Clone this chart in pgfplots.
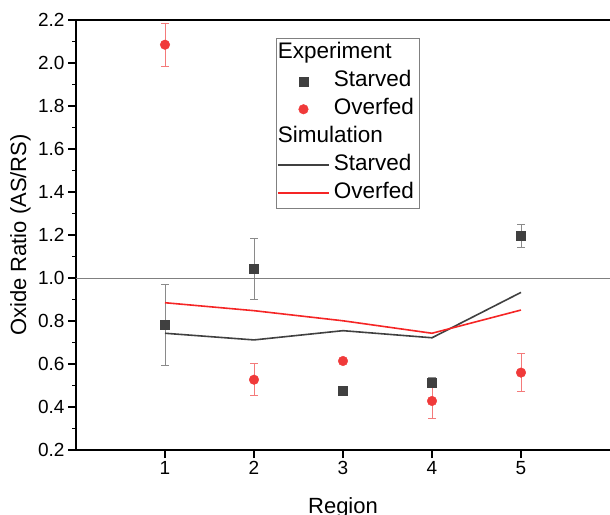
\documentclass[border=0pt]{standalone}
\usepackage{pgfplots}
\pgfplotsset{compat=1.18}
\usepackage{fontspec}
\setmainfont{Liberation Sans}
\definecolor{sgray}{HTML}{404040}
\definecolor{errgray}{HTML}{8A8A8A}
\definecolor{sred}{HTML}{F03A3A}
\definecolor{errred}{HTML}{F47A7A}
\definecolor{lred}{HTML}{F52525}
\begin{document}
\begin{tikzpicture}
\begin{axis}[
  scale only axis, width=534pt, height=430pt,
  xmin=0, xmax=6, ymin=0.2, ymax=2.2,
  axis x line=box, axis y line=left,
  axis line style={-, black, line width=1.3pt},
  xtick={1,2,3,4,5}, xtick pos=bottom,
  ytick={0.2,0.4,0.6,0.8,1.0,1.2,1.4,1.6,1.8,2.0,2.2},
  minor y tick num=1,
  tick align=outside,
  major tick length=8pt, minor tick length=4pt,
  tick style={black, line width=1.1pt},
  /pgf/number format/assume math mode=true,
  yticklabel style={/pgf/number format/.cd, fixed, fixed zerofill, precision=1},
  ticklabel style={font=\fontsize{19}{22}\selectfont},
  label style={font=\fontsize{22}{26}\selectfont},
  xlabel={Region},
  xlabel style={at={(axis description cs:0.5,0)}, anchor=north, inner sep=0pt, yshift=-47pt},
  ylabel={Oxide Ratio (AS/RS)},
  ylabel style={at={(axis description cs:-0.1236,0.5)}, anchor=north, inner sep=0pt},
  legend image code/.code={\draw[mark repeat=2,mark phase=2,#1] plot coordinates {(0pt,0pt)(25.5pt,0pt)(51pt,0pt)};},
  legend cell align=left,
  legend style={at={(axis description cs:0.3745,0.958)}, anchor=north west,
    draw=gray, fill=white,
    font=\fontsize{22.5}{26}\selectfont,
    nodes={inner ysep=1.5pt, inner xsep=4pt, text height=16pt, text depth=5pt},
    row sep=4pt, inner xsep=1pt, inner ysep=3pt},
]
\addlegendimage{empty legend}
\addlegendentry{\hspace*{-56pt}Experiment}
\addplot[only marks, mark=square*, mark size=4.5pt, color=sgray, draw=sgray,
  error bars/.cd, y dir=both, y explicit,
  error bar style={color=errgray, line width=0.8pt},
  error mark options={rotate=90, mark size=4pt, color=errgray, line width=0.8pt}]
  table[x=x, y=y, y error=e] {
x y e
1 0.781 0.188
2 1.042 0.140
3 0.476 0.020
4 0.515 0.025
5 1.197 0.054
};
\addlegendentry{Starved}
\addplot[only marks, mark=*, mark size=4.8pt, color=sred, draw=sred,
  error bars/.cd, y dir=both, y explicit,
  error bar style={color=errred, line width=0.8pt},
  error mark options={rotate=90, mark size=4pt, color=errred, line width=0.8pt}]
  table[x=x, y=y, y error=e] {
x y e
1 2.085 0.100
2 0.527 0.075
3 0.614 0.000
4 0.428 0.080
5 0.560 0.087
};
\addlegendentry{Overfed}
\addlegendimage{empty legend}
\addlegendentry{\hspace*{-56pt}Simulation}
\addplot[color=sgray, draw=sgray, line width=1.6pt, mark=none] coordinates {
(1,0.743) (2,0.712) (3,0.755) (4,0.722) (5,0.933)};
\addlegendentry{Starved}
\addplot[color=lred, draw=lred, line width=1.6pt, mark=none] coordinates {
(1,0.885) (2,0.848) (3,0.801) (4,0.743) (5,0.851)};
\addlegendentry{Overfed}
\addplot[gray, draw=gray, line width=0.8pt, forget plot] coordinates {(0,1) (6,1)};
\coordinate (SW) at (rel axis cs:0,0);
\end{axis}
\pgfresetboundingbox
\path[use as bounding box] ([shift={(-76pt,-64pt)}]SW) rectangle ([shift={(534pt,450pt)}]SW);
\end{tikzpicture}
\end{document}
